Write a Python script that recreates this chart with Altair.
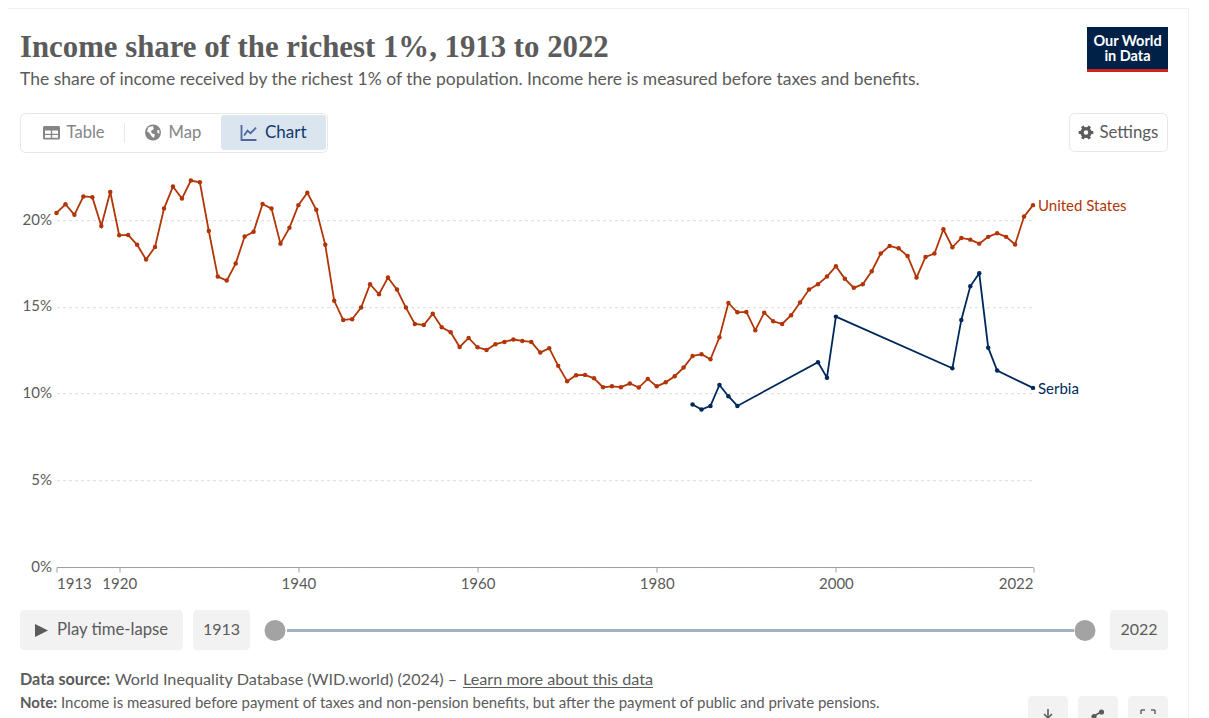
import altair as alt
import pandas as pd

# ---------- data ----------
us_years = list(range(1913, 2023))
us_share = [
    20.42, 20.92, 20.31, 21.37, 21.33, 19.67, 21.63, 19.13, 19.15, 18.58,
    17.73, 18.46, 20.67, 21.94, 21.25, 22.29, 22.19, 19.38, 16.75, 16.52,
    17.50, 19.06, 19.33, 20.94, 20.67, 18.65, 19.56, 20.87, 21.58, 20.60,
    18.58, 15.35, 14.25, 14.29, 14.96, 16.31, 15.73, 16.69, 16.00, 14.96,
    14.02, 13.96, 14.60, 13.83, 13.54, 12.69, 13.21, 12.67, 12.52, 12.85,
    12.98, 13.12, 13.04, 12.98, 12.37, 12.62, 11.60, 10.71, 11.06, 11.08,
    10.88, 10.37, 10.42, 10.37, 10.58, 10.35, 10.85, 10.42, 10.65, 11.00,
    11.50, 12.17, 12.27, 11.98, 13.25, 15.23, 14.69, 14.71, 13.65, 14.67,
    14.17, 14.02, 14.52, 15.25, 16.00, 16.31, 16.75, 17.35, 16.62, 16.10,
    16.31, 17.06, 18.08, 18.52, 18.38, 17.94, 16.69, 17.88, 18.08, 19.48,
    18.44, 18.98, 18.88, 18.65, 19.04, 19.25, 19.04, 18.60, 20.21, 20.87,
]
rs_years = [1984, 1985, 1986, 1987, 1988, 1989, 1998, 1999, 2000, 2013,
            2014, 2015, 2016, 2017, 2018, 2022]
rs_share = [9.37, 9.08, 9.29, 10.50, 9.85, 9.29, 11.81, 10.92, 14.44, 11.46,
            14.25, 16.19, 16.94, 12.65, 11.33, 10.33]
series_names = ["United States", "Serbia"]
series_colors = ["#b13507", "#00295b"]
x_ticks = [1913, 1920, 1940, 1960, 1980, 2000, 2022]
y_ticks = [0, 5, 10, 15, 20]

df = pd.DataFrame(
    {"year": us_years + rs_years,
     "share": us_share + rs_share,
     "country": [series_names[0]] * len(us_years) + [series_names[1]] * len(rs_years)}
)

# ---------- geometry ----------
CW, CH = 1193, 710             # canvas
PW, PH = 976.5, 398.8          # plot area
OX, OY = 56.5, 168.2           # plot origin, page coordinates
FONT = "Lato"
GREY = "#5b5b5b"
ICON = "#858585"


def T(s, x, y, size=16.8, color=GREY, weight="normal", align="left", font=FONT):
    return alt.Chart().mark_text(
        text=s, font=font, fontSize=size, fontWeight=weight, color=color,
        align=align, baseline="alphabetic",
    ).encode(x=alt.value(x - OX), y=alt.value(y - OY))


def R(x0, y0, x1, y1, fill=None, stroke=None, r=0, sw=1):
    kw = {"cornerRadius": r} if r else {}
    kw["fill"] = fill if fill else "transparent"
    if stroke:
        kw["stroke"] = stroke
        kw["strokeWidth"] = sw
    return alt.Chart().mark_rect(**kw).encode(
        x=alt.value(x0 - OX), x2=alt.value(x1 - OX),
        y=alt.value(y0 - OY), y2=alt.value(y1 - OY),
    )


def L(x0, y0, x1, y1, color, sw=1):
    return alt.Chart().mark_rule(color=color, strokeWidth=sw).encode(
        x=alt.value(x0 - OX), x2=alt.value(x1 - OX),
        y=alt.value(y0 - OY), y2=alt.value(y1 - OY),
    )


def C(x, y, r, fill):
    return alt.Chart().mark_point(
        shape="circle", filled=True, fill=fill, size=(2 * r) ** 2, opacity=1, strokeWidth=0
    ).encode(x=alt.value(x - OX), y=alt.value(y - OY))


def P(path, x, y, r, color, filled=True, sw=1.5):
    kw = {"fill": color, "strokeWidth": 0} if filled else {"stroke": color, "strokeWidth": sw, "fill": "transparent"}
    return alt.Chart().mark_point(
        shape=path, filled=filled, size=(2 * r) ** 2, opacity=1, **kw
    ).encode(x=alt.value(x - OX), y=alt.value(y - OY))


chrome = [
    L(8, 8.5, 1188, 8.5, "#f0f0f0"),
    L(1188.5, 8, 1188.5, 718, "#f0f0f0"),
    # heading
    T("Income share of the richest 1%, 1913 to 2022", 20, 57, 30.8, GREY, "bold", font="Liberation Serif"),
    T("The share of income received by the richest 1% of the population. Income here is measured before taxes and benefits.", 20, 85, 17.5),
    # logo
    R(1087, 27, 1168, 72, fill="#002147"),
    R(1087, 69, 1168, 72, fill="#ce261e"),
    T("Our World", 1127.5, 45.5, 14.5, "#ffffff", "bold", "center"),
    T("in Data", 1127.5, 60.5, 14.5, "#ffffff", "bold", "center"),
    # tabs
    R(20.5, 113.5, 327.5, 152.5, stroke="#e7e7e7", r=5, sw=1),
    R(221, 115, 326, 150, fill="#dbe5f0", r=3),
    L(124.5, 123, 124.5, 143, "#e7e7e7"),
    R(43, 126, 60, 139.5, fill=ICON, r=1.5),
    R(45, 130.5, 50.8, 133.8, fill="#ffffff"), R(52.2, 130.5, 58, 133.8, fill="#ffffff"),
    R(45, 135, 50.8, 137.8, fill="#ffffff"), R(52.2, 135, 58, 137.8, fill="#ffffff"),
    T("Table", 66.5, 138, 16.6, ICON),
    C(153, 132.5, 8, ICON),
    P("M-0.55,-0.7L0,-0.8L0.1,-0.45L-0.25,-0.2L-0.15,0.1L0.25,0.25L0.1,0.7L-0.15,0.5L-0.45,0.05L-0.75,-0.15Z", 153, 132.5, 8, "#ffffff"),
    P("M0.5,-0.25L0.78,-0.3L0.8,0.15L0.58,0.05Z", 153, 132.5, 8, "#ffffff"),
    T("Map", 168.5, 138, 16.6, ICON),
    P("M-1,-1L-1,1L1,1M-0.65,0.4L-0.2,-0.25L0.2,0.1L0.95,-0.65", 249, 132.5, 7.5, "#4c6a9c", filled=False, sw=1.8),
    T("Chart", 265, 138, 17, "#103a6b"),
    # settings
    R(1069.5, 113.5, 1167.5, 151.5, stroke="#e7e7e7", r=5, sw=1),
    P("M-1,0L1,0M-0.5,-0.866L0.5,0.866M-0.5,0.866L0.5,-0.866", 1086, 132.5, 7.3, GREY, filled=False, sw=3),
    C(1086, 132.5, 5.6, GREY),
    C(1086, 132.5, 2.2, "#ffffff"),
    T("Settings", 1099.5, 138, 16.8, GREY),
    # time-lapse controls
    R(20, 610, 183, 650, fill="#f2f2f2", r=4),
    P("M-1,-1L1,0L-1,1Z", 41.5, 630.5, 6.5, GREY),
    T("Play time-lapse", 57, 635, 16.7),
    R(193, 610, 250, 650, fill="#f2f2f2", r=4),
    T("1913", 221.5, 635, 16, GREY, "normal", "center"),
    R(287, 629, 1074, 632, fill="#a4b0c0"),
    C(275, 630.5, 10.5, "#a3a3a3"),
    C(1085, 630.5, 10.5, "#a3a3a3"),
    R(1110, 610, 1168, 650, fill="#f2f2f2", r=4),
    T("2022", 1139, 635, 16, GREY, "normal", "center"),
    # footer
    T("Data source:", 20, 684.5, 16.2, GREY, "bold"),
    T("World Inequality Database (WID.world) (2024) –", 115, 684.5, 16.2),
    T("Learn more about this data", 463, 684.5, 16.2),
    L(463, 687.5, 653, 687.5, GREY),
    T("Note:", 20, 708, 15, GREY, "bold"),
    T("Income is measured before payment of taxes and non-pension benefits, but after the payment of public and private pensions.", 61, 708, 15),
    # bottom-right buttons
    R(1028, 696, 1068, 730, fill="#f2f2f2", r=4),
    R(1078, 696, 1118, 730, fill="#f2f2f2", r=4),
    R(1128, 696, 1168, 730, fill="#f2f2f2", r=4),
    L(1048, 709, 1048, 720, GREY, 1.6),
    L(1044, 714, 1048, 718, GREY, 1.6),
    L(1052, 714, 1048, 718, GREY, 1.6),
    C(1101.5, 712, 2.6, GREY),
    C(1094, 716.5, 2.6, GREY),
    L(1101, 712, 1094, 716, GREY, 1.6),
    L(1141, 710, 1145, 710, GREY, 1.4), L(1141, 710, 1141, 714, GREY, 1.4),
    L(1151, 710, 1155, 710, GREY, 1.4), L(1155, 710, 1155, 714, GREY, 1.4),
]

# ---------- data marks ----------
x_enc = alt.X(
    "year:Q",
    scale=alt.Scale(domain=[min(us_years), max(us_years)], nice=False, zero=False),
    axis=alt.Axis(
        values=x_ticks, format="d", title=None, grid=False, domainColor="#a0a0a0",
        tickColor="#a0a0a0", tickSize=5, labelFont=FONT, labelFontSize=15,
        labelColor=GREY, labelPadding=4, labelFlush=False, labelOverlap=False,
        labelAlign={"expr": "datum.value == 1913 ? 'left' : datum.value == 2022 ? 'right' : 'center'"},
    ),
)
y_enc = alt.Y(
    "share:Q",
    scale=alt.Scale(domain=[0, 23], nice=False),
    axis=alt.Axis(
        values=y_ticks, labelExpr="datum.value + '%'", title=None, domain=False, ticks=False,
        grid=True, gridColor="#dddddd", gridDash=[3, 3], labelFont=FONT, labelFontSize=15,
        labelColor=GREY, labelPadding=5, labelOffset=-1,
    ),
)
color_enc = alt.Color(
    "country:N",
    scale=alt.Scale(domain=series_names, range=series_colors),
    legend=None,
)
base = alt.Chart(df).encode(x=x_enc, y=y_enc, color=color_enc, detail="country:N")
lines = base.mark_line(strokeWidth=1.8)
points = base.mark_point(filled=True, size=20, opacity=1, strokeWidth=0)
end_labels = base.transform_filter("datum.year == 2022").mark_text(
    align="left", baseline="middle", dx=5, dy=1, font=FONT, fontSize=15
).encode(text="country:N")

chart = alt.layer(lines, points, end_labels, *chrome).properties(
    width=PW,
    height=PH,
    padding={"left": OX - 8, "top": OY - 8, "right": CW - (OX - 8) - PW, "bottom": CH - (OY - 8) - PH},
    autosize=alt.AutoSizeParams(type="none"),
    background="#ffffff",
).configure_view(stroke=None)

chart.save("out.html", embed_options={"renderer": "svg", "actions": False})
